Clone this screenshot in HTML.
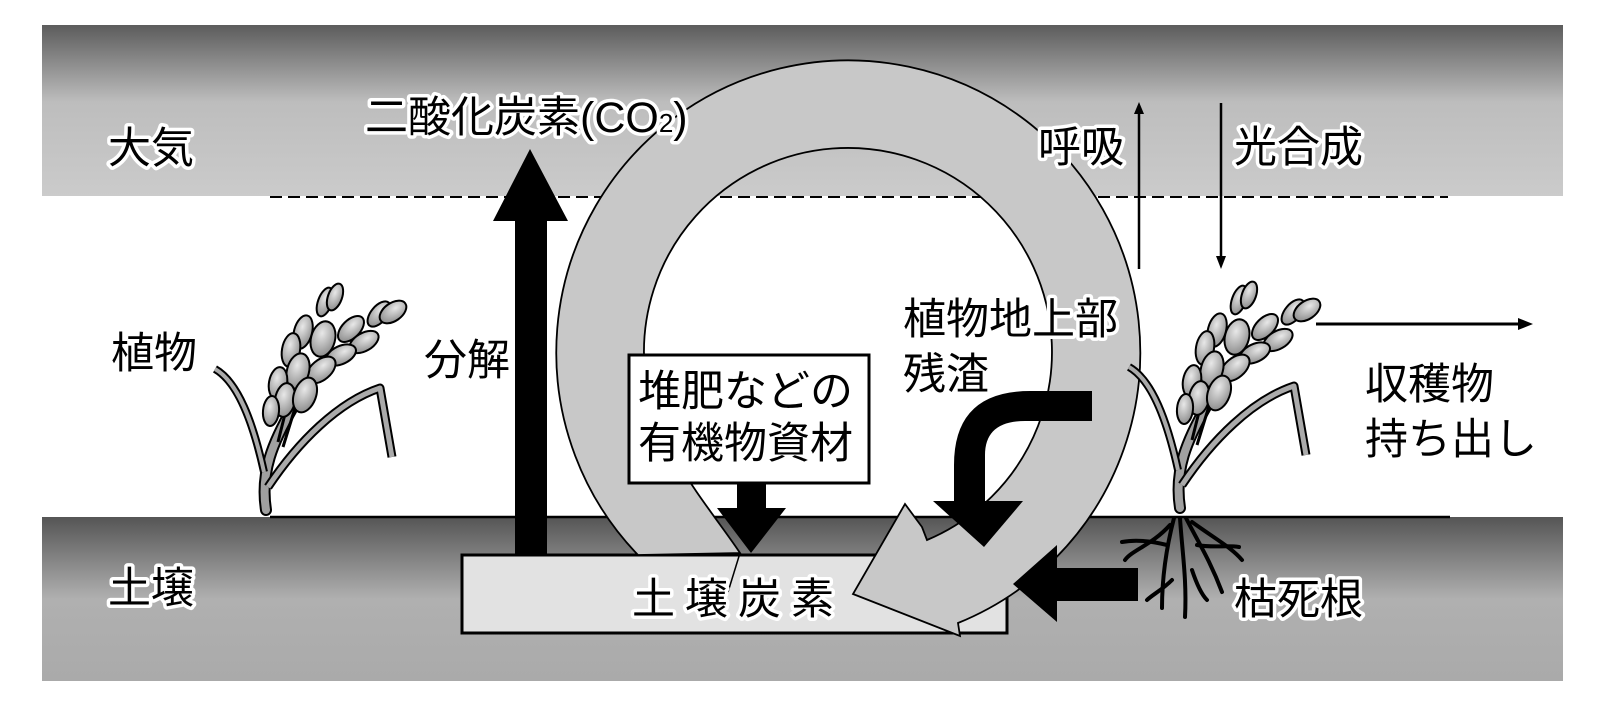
<!DOCTYPE html>
<html><head><meta charset="utf-8"><style>
html,body{margin:0;padding:0;background:#fff;}
svg{display:block;}
text{font-family:"Liberation Sans","Noto Sans CJK JP",sans-serif;font-size:43px;fill:#000;}
.h{paint-order:stroke;stroke:#fff;stroke-width:7px;stroke-linejoin:round;}
</style></head><body>
<svg width="1611" height="721" viewBox="0 0 1611 721" xmlns="http://www.w3.org/2000/svg">
<defs>
<linearGradient id="gt" x1="0" y1="0" x2="0" y2="1">
<stop offset="0" stop-color="#5c5c5c"/><stop offset="0.45" stop-color="#bdbdbd"/><stop offset="1" stop-color="#cbcbcb"/>
</linearGradient>
<linearGradient id="gs" x1="0" y1="0" x2="0" y2="1">
<stop offset="0" stop-color="#555"/><stop offset="0.5" stop-color="#b0b0b0"/><stop offset="1" stop-color="#aaa"/>
</linearGradient>
<radialGradient id="gg" cx="0.4" cy="0.35" r="0.7"><stop offset="0" stop-color="#e8e8e8"/><stop offset="1" stop-color="#8a8a8a"/></radialGradient>
<g id="plant">
<path d="M1180,508 C1174,470 1187,440 1207,405" fill="none" stroke="#000" stroke-width="12" stroke-linecap="round"/>
<path d="M1180,508 C1174,470 1187,440 1207,405" fill="none" stroke="#a0a0a0" stroke-width="8" stroke-linecap="round"/>
<path d="M1178,470 C1167,420 1152,380 1129,367" fill="none" stroke="#000" stroke-width="8"/>
<path d="M1178,470 C1167,420 1152,380 1129,367" fill="none" stroke="#aaa" stroke-width="4"/>
<path d="M1182,485 C1212,440 1252,400 1294,386 L1306,455" fill="none" stroke="#000" stroke-width="9" stroke-linejoin="round"/>
<path d="M1182,485 C1212,440 1252,400 1294,386 L1306,455" fill="none" stroke="#aaa" stroke-width="5" stroke-linejoin="round"/>
<path d="M1192,440 L1202,400 M1197,445 L1214,390" stroke="#000" stroke-width="3" fill="none"/>
<g fill="url(#gg)" stroke="#000" stroke-width="2">
<ellipse cx="1239" cy="300" rx="7" ry="15" transform="rotate(20 1239 300)"/>
<ellipse cx="1249" cy="295" rx="7" ry="14" transform="rotate(20 1249 295)"/>
<ellipse cx="1217" cy="330" rx="9" ry="17" transform="rotate(15 1217 330)"/>
<ellipse cx="1205" cy="348" rx="9" ry="17" transform="rotate(10 1205 348)"/>
<ellipse cx="1265" cy="327" rx="9" ry="16" transform="rotate(45 1265 327)"/>
<ellipse cx="1278" cy="340" rx="9" ry="16" transform="rotate(60 1278 340)"/>
<ellipse cx="1293" cy="312" rx="8" ry="15" transform="rotate(40 1293 312)"/>
<ellipse cx="1307" cy="310" rx="9" ry="15" transform="rotate(55 1307 310)"/>
<ellipse cx="1255" cy="353" rx="9" ry="16" transform="rotate(65 1255 353)"/>
<ellipse cx="1237" cy="337" rx="12" ry="18" transform="rotate(15 1237 337)"/>
<ellipse cx="1235" cy="368" rx="10" ry="17" transform="rotate(50 1235 368)"/>
<ellipse cx="1212" cy="369" rx="11" ry="18" transform="rotate(15 1212 369)"/>
<ellipse cx="1192" cy="381" rx="9" ry="16" transform="rotate(10 1192 381)"/>
<ellipse cx="1199" cy="398" rx="10" ry="17" transform="rotate(10 1199 398)"/>
<ellipse cx="1219" cy="393" rx="11" ry="18" transform="rotate(20 1219 393)"/>
<ellipse cx="1185" cy="409" rx="8" ry="15" transform="rotate(5 1185 409)"/>
</g>
</g>
</defs>
<rect width="1611" height="721" fill="#fff"/>
<rect x="42" y="25" width="1521" height="171" fill="url(#gt)"/>
<rect x="42" y="517" width="1521" height="164" fill="url(#gs)"/>
<line x1="270" y1="197" x2="1448" y2="197" stroke="#000" stroke-width="2" stroke-dasharray="12,6"/>
<line x1="270" y1="517" x2="1450" y2="517" stroke="#000" stroke-width="2.5"/>

<!-- soil carbon box -->
<rect x="462" y="555" width="545" height="78" fill="#e2e2e2" stroke="#000" stroke-width="3"/>

<!-- ring arrow -->
<path d="M638,555 A292,292 0 1 1 958,623 L960,636 L853,594 L905,504 L922,527 L927,540 A204,204 0 1 0 668,448 C700,500 725,530 740,553 Z" fill="#c8c8c8" stroke="#000" stroke-width="1.8"/>
<path d="M740,553 L728,592" stroke="#000" stroke-width="1.5"/>

<!-- compost box -->
<rect x="629" y="355" width="240" height="128" fill="#fff" stroke="#000" stroke-width="3"/>
<text x="638" y="406" class="h">堆肥などの</text>
<text x="638" y="458" class="h">有機物資材</text>
<path d="M737,483 L766,483 L766,508 L786,508 L751,553 L717,508 L737,508 Z" fill="#000"/>

<!-- decomposition arrow -->
<path d="M515,555 L547,555 L547,221 L568,221 L530,149 L493,221 L515,221 Z" fill="#000"/>

<!-- residue bent arrow -->
<path d="M1092,391 L1030,391 Q954,391 954,465 L954,501 L933,501 L984,547 L1023,501 L985,501 L985,455 Q985,421 1025,421 L1092,421 Z" fill="#000"/>

<!-- dead root arrow -->
<path d="M1138,568 L1057,568 L1057,545 L1013,584 L1057,622 L1057,601 L1138,601 Z" fill="#000"/>

<!-- thin arrows -->
<line x1="1139" y1="269" x2="1139" y2="112" stroke="#000" stroke-width="2.5"/>
<path d="M1134,114 L1139,102 L1144,114 Z" fill="#000"/>
<line x1="1221" y1="103" x2="1221" y2="258" stroke="#000" stroke-width="2.5"/>
<path d="M1216,256 L1221,269 L1226,256 Z" fill="#000"/>
<line x1="1316" y1="324" x2="1520" y2="324" stroke="#000" stroke-width="3"/>
<path d="M1518,318 L1533,324 L1518,330 Z" fill="#000"/>

<!-- plants -->
<use href="#plant" transform="translate(-914,2)"/>
<use href="#plant"/>
<!-- roots -->
<g fill="none" stroke="#000" stroke-width="4" stroke-linecap="round">
<path d="M1174,518 C1167,545 1162,575 1162,608"/>
<path d="M1180,518 C1182,550 1187,580 1185,617"/>
<path d="M1186,518 C1197,540 1210,560 1222,592"/>
<path d="M1170,525 C1152,545 1132,550 1125,560"/>
<path d="M1192,522 C1217,540 1232,548 1242,560"/>
<path d="M1167,545 C1147,540 1132,540 1122,542"/>
<path d="M1197,545 C1212,548 1227,545 1239,547"/>
<path d="M1172,580 C1162,590 1152,595 1147,600"/>
<path d="M1192,570 C1197,585 1202,595 1207,600"/>
</g>

<!-- labels -->
<text x="108" y="163" class="h">大気</text>
<text x="108" y="603" class="h">土壌</text>
<text x="111" y="368">植物</text>
<text x="424" y="375">分解</text>
<text x="365" y="132" class="h">二酸化炭素(CO<tspan font-size="26">2</tspan>)</text>
<text x="1038" y="162" class="h">呼吸</text>
<text x="1234" y="162" class="h">光合成</text>
<text x="903" y="334" class="h">植物地上部</text>
<text x="903" y="389" class="h">残渣</text>
<text x="1365" y="399">収穫物</text>
<text x="1365" y="454">持ち出し</text>
<text x="1234" y="614" class="h">枯死根</text>
<text x="632" y="614" class="h" letter-spacing="10">土壌炭素</text>
</svg>
</body></html>
